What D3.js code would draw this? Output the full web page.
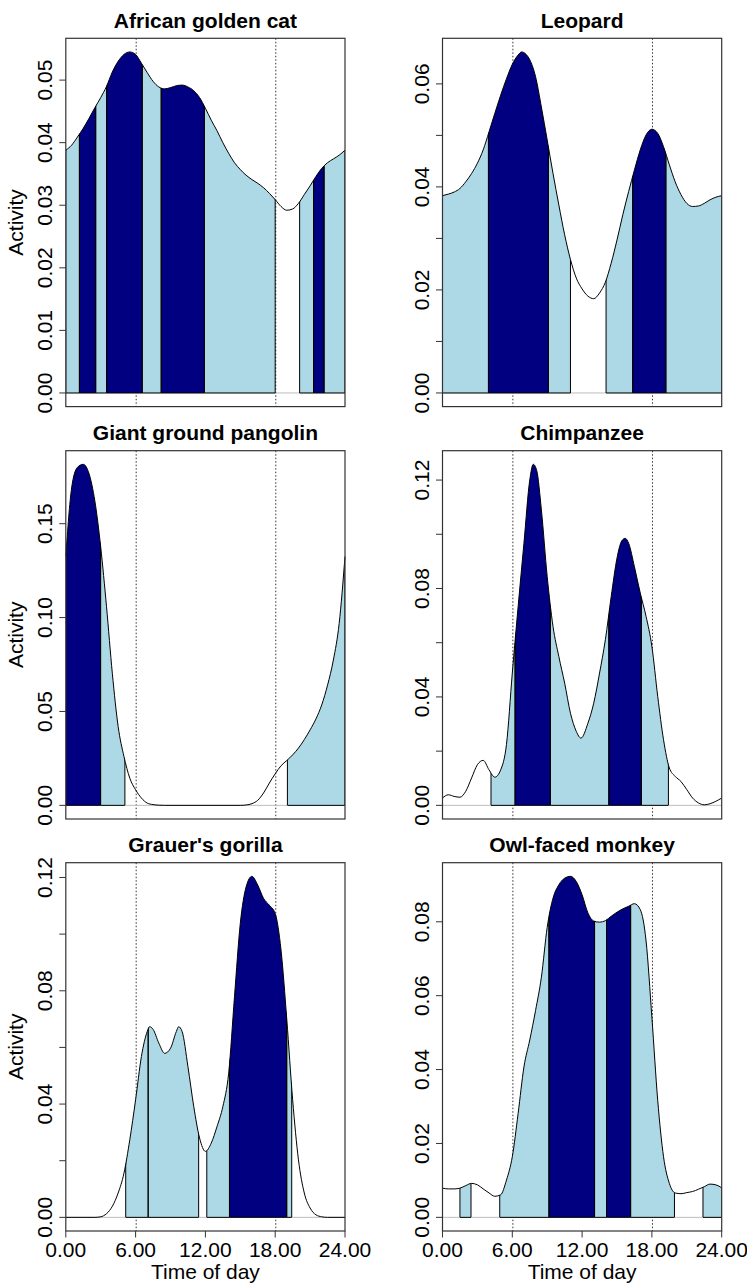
<!DOCTYPE html>
<html>
<head>
<meta charset="utf-8">
<script src="https://cdn.jsdelivr.net/npm/d3@7"></script>
<style>
  body { margin: 0; background: #fff; }
  svg text { font-family: "Liberation Sans", Arial, sans-serif; fill: #000; }
</style>
</head>
<body>
<svg id="chart" width="747" height="1285"></svg>
<script>
// panel titles, in reading order
const species = ["African golden cat", "Leopard", "Giant ground pangolin",
                 "Chimpanzee", "Grauer's gorilla", "Owl-faced monkey"];

// activity density curves as [hour, activity]
const goldenCat = [[0,.0388],[0.5,.0396],[1,.0409],[1.5,.0423],[2,.0439],[2.5,.0456],[3,.0472],[3.5,.0490],
  [4,.0513],[4.5,.0530],[5,.0541],[5.5,.0545],[6,.0541],[6.5,.0527],[7,.0512],[7.5,.0498],[8,.0489],
  [8.5,.0486],[9,.0488],[9.5,.0491],[10,.0492],[10.5,.0489],[11,.0483],[11.5,.0472],[12,.0455],
  [12.5,.0436],[13,.0419],[13.5,.0400],[14,.0383],[14.5,.0368],[15,.0357],[15.5,.0348],[16,.0341],
  [16.5,.0335],[17,.0328],[17.5,.0319],[18,.0309],[18.5,.0298],[19,.0292],[19.5,.0294],[20,.0303],
  [20.5,.0317],[21,.0331],[21.5,.0346],[22,.0359],[22.5,.0368],[23,.0374],[23.5,.0380],[24,.0388]];

const leopard = [[0,.0383],[0.5,.0386],[1,.0390],[1.5,.0397],[2,.0410],[2.5,.0426],[3,.0446],[3.5,.0472],
  [4,.0507],[4.5,.0543],[5,.0578],[5.5,.0610],[6,.0638],[6.5,.0656],[6.8,.0662],[7.2,.0657],[7.5,.0647],
  [8,.0614],[8.5,.0555],[9,.0491],[9.5,.0426],[10,.0365],[10.5,.0307],[11,.0259],[11.5,.0223],[12,.0202],
  [12.5,.0188],[13,.0183],[13.5,.0194],[14,.0215],[14.5,.0252],[15,.0297],[15.5,.0346],[16,.0391],
  [16.5,.0433],[17,.0472],[17.5,.0501],[18,.0512],[18.5,.0504],[19,.0478],[19.5,.0443],[20,.0410],
  [20.5,.0385],[21,.0368],[21.5,.0362],[22,.0363],[22.5,.0368],[23,.0375],[23.5,.0380],[24,.0383]];

const pangolin = [[0,.1325],[0.5,.1690],[1,.1800],[1.5,.1816],[2,.1766],[2.5,.1620],[3,.1376],[3.5,.1058],
  [4,.0703],[4.5,.0420],[5,.0260],[5.5,.0145],[6,.0083],[6.5,.0039],[7,.0012],[7.5,.0004],[8,.0001],
  [8.5,0],[15,0],[15.5,.0002],[16,.0009],[16.5,.0027],[17,.0066],[17.5,.0119],[18,.0168],[18.5,.0211],
  [19,.0239],[19.5,.0269],[20,.0305],[20.5,.0350],[21,.0402],[21.5,.0460],[22,.0535],[22.5,.0640],
  [23,.0774],[23.5,.0969],[24,.1325]];

const chimpanzee = [[0,.0027],[0.5,.0039],[1,.0033],[1.5,.0030],[2,.0052],[2.5,.0101],[3,.0150],[3.5,.0166],
  [4,.0131],[4.5,.0104],[5,.0131],[5.5,.0225],[6,.0488],[6.5,.0733],[7,.0967],[7.5,.1200],[7.8,.1258],
  [8.1,.1235],[8.5,.1090],[9,.0844],[9.5,.0660],[10,.0549],[10.5,.0451],[11,.0340],[11.5,.0273],
  [11.9,.0248],[12.5,.0303],[13,.0377],[13.5,.0488],[14,.0611],[14.5,.0770],[15,.0912],[15.4,.0975],
  [15.7,.0985],[16,.0967],[16.5,.0880],[17,.0783],[17.5,.0697],[18,.0586],[18.5,.0402],[19,.0242],
  [19.5,.0138],[20,.0107],[20.5,.0088],[21,.0058],[21.5,.0027],[22,.0009],[22.5,.0002],[23,.0006],
  [23.5,.0015],[24,.0027]];

const gorilla = [[0,0],[2.5,0],[3,.0002],[3.5,.0013],[4,.0039],[4.5,.0086],[5,.0156],[5.5,.0274],[6,.0415],
  [6.5,.0568],[7,.0656],[7.2,.0673],[7.5,.0664],[8,.0615],[8.5,.0579],[9,.0597],[9.5,.0656],[9.7,.0673],
  [10,.0656],[10.5,.0532],[11,.0391],[11.5,.0280],[12,.0233],[12.5,.0262],[13,.0321],[13.5,.0391],
  [14,.0509],[14.5,.0779],[15,.1038],[15.5,.1167],[16,.1204],[16.5,.1173],[17,.1126],[17.5,.1102],
  [18,.1073],[18.5,.0944],[19,.0697],[19.5,.0415],[20,.0203],[20.5,.0086],[21,.0033],[21.5,.0009],
  [22,.0002],[22.5,0],[24,0]];

const owlFaced = [[0,.0079],[0.5,.0077],[1,.0077],[1.5,.0079],[2,.0086],[2.5,.0092],[3,.0088],[3.5,.0077],
  [4,.0066],[4.5,.0057],[5,.0061],[5.5,.0101],[6,.0164],[6.5,.0281],[7,.0407],[7.5,.0480],[8,.0560],
  [8.5,.0650],[9,.0785],[9.5,.0864],[10,.0900],[10.5,.0918],[11,.0923],[11.5,.0909],[12,.0873],
  [12.5,.0824],[13,.0802],[13.5,.0799],[14,.0803],[14.5,.0815],[15,.0826],[15.5,.0835],[16,.0842],
  [16.5,.0849],[17,.0833],[17.5,.0748],[18,.0541],[18.5,.0317],[19,.0164],[19.5,.0092],[20,.0066],
  [20.5,.0064],[21,.0067],[21.5,.0070],[22,.0076],[22.5,.0083],[23,.0090],[23.5,.0088],[24,.0080]];

// shaded hour blocks: [start, end, level]  level 1 = light, 2 = dark
const goldenCatBlocks = [[0,1.17,1],[1.17,2.57,2],[2.57,3.51,1],[3.51,6.57,2],[6.57,8.2,1],[8.2,11.91,2],
  [11.91,18.0,1],[20.1,21.3,1],[21.3,22.2,2],[22.2,24,1]];
const leopardBlocks = [[0,3.95,1],[3.95,9.1,2],[9.1,11.0,1],[14.06,16.35,1],[16.35,19.2,2],[19.2,24,1]];
const pangolinBlocks = [[0,2.99,2],[2.99,5.08,1],[19.05,24,1]];
const chimpanzeeBlocks = [[4.17,6.24,1],[6.24,9.27,2],[9.27,14.3,1],[14.3,17.09,2],[17.09,19.42,1]];
const gorillaBlocks = [[5.15,7.08,1],[7.08,11.42,1],[12.12,14.07,1],[14.07,18.99,2],[18.99,19.42,1]];
const owlFacedBlocks = [[1.5,2.45,1],[4.92,9.15,1],[9.15,13.07,2],[13.07,14.1,1],[14.1,16.17,2],
  [16.17,19.94,1],[22.39,24,1]];

// y axis ticks per panel
const goldenCatTicks = [0, .01, .02, .03, .04, .05];
const leopardTicks = [0, .01, .02, .03, .04, .05, .06];
const pangolinTicks = [0, .05, .10, .15];
const chimpanzeeTicks = [0, .02, .04, .06, .08, .10, .12];
const gorillaTicks = [0, .02, .04, .06, .08, .10, .12];
const owlFacedTicks = [0, .02, .04, .06, .08];

const xTicks = [0, 6, 12, 18, 24];
const sunTimes = [6.05, 18.05];   // dotted sunrise / sunset lines

const curves = [goldenCat, leopard, pangolin, chimpanzee, gorilla, owlFaced];
const blocks = [goldenCatBlocks, leopardBlocks, pangolinBlocks, chimpanzeeBlocks, gorillaBlocks, owlFacedBlocks];
const yTicks = [goldenCatTicks, leopardTicks, pangolinTicks, chimpanzeeTicks, gorillaTicks, owlFacedTicks];

const fills = {1: "#add8e6", 2: "#000080"};

const svg = d3.select("#chart");
const W = 279.2, H = 368.3;
const colLeft = [65.8, 442.5];
const rowTop = [38.3, 450.7, 862.7];
const tickLen = 6.5;

species.forEach((name, i) => {
    const col = i % 2, row = Math.floor(i / 2);
    const left = colLeft[col], top = rowTop[row];
    const data = curves[i];
    const maxV = d3.max(data, d => d[1]);

    const x = d3.scaleLinear().domain([0, 24]).range([left, left + W]);
    const y = d3.scaleLinear().domain([-0.04 * maxV, 1.04 * maxV]).range([top + H, top]);

    const g = svg.append("g");

    // sunrise / sunset
    g.selectAll(".sun").data(sunTimes).join("line")
        .attr("x1", d => x(d)).attr("x2", d => x(d))
        .attr("y1", top).attr("y2", top + H)
        .attr("stroke", "#333").attr("stroke-width", 1)
        .attr("stroke-dasharray", "1.5,2");

    // baseline at zero
    g.append("line")
        .attr("x1", left).attr("x2", left + W)
        .attr("y1", y(0)).attr("y2", y(0))
        .attr("stroke", "#bdbdbd").attr("stroke-width", 1);

    const area = d3.area()
        .x(d => x(d[0])).y0(y(0)).y1(d => y(d[1]))
        .curve(d3.curveMonotoneX);
    const line = d3.line()
        .x(d => x(d[0])).y(d => y(d[1]))
        .curve(d3.curveMonotoneX);

    svg.append("clipPath").attr("id", "clip" + i)
        .append("path").attr("d", area(data));

    const shaded = g.append("g").attr("clip-path", "url(#clip" + i + ")");
    shaded.selectAll("rect").data(blocks[i]).join("rect")
        .attr("x", d => x(d[0]))
        .attr("width", d => x(d[1]) - x(d[0]))
        .attr("y", top)
        .attr("height", y(0) - top)
        .attr("fill", d => fills[d[2]]);

    const edges = blocks[i].flatMap(d => [d[0], d[1]]);
    shaded.selectAll("line").data(edges).join("line")
        .attr("x1", d => x(d)).attr("x2", d => x(d))
        .attr("y1", top).attr("y2", y(0))
        .attr("stroke", "#000").attr("stroke-width", 1);

    g.selectAll(".bottom").data(blocks[i]).join("line")
        .attr("x1", d => x(d[0])).attr("x2", d => x(d[1]))
        .attr("y1", y(0)).attr("y2", y(0))
        .attr("stroke", "#000").attr("stroke-width", 1);

    g.append("path").attr("d", line(data))
        .attr("fill", "none").attr("stroke", "#000").attr("stroke-width", 1);

    // frame
    g.append("rect")
        .attr("x", left).attr("y", top).attr("width", W).attr("height", H)
        .attr("fill", "none").attr("stroke", "#333").attr("stroke-width", 1.2);

    // y axis
    const ticks = yTicks[i];
    g.selectAll(".ytick").data(ticks).join("line")
        .attr("x1", left - tickLen).attr("x2", left)
        .attr("y1", d => y(d)).attr("y2", d => y(d))
        .attr("stroke", "#333").attr("stroke-width", 1);

    // drop labels that would collide, like R does
    let lastY = Infinity;
    const shown = ticks.filter(t => {
        if (lastY - y(t) >= 60) { lastY = y(t); return true; }
        return false;
    });
    g.selectAll(".ylab").data(shown).join("text")
        .attr("transform", d => `translate(${left - 14},${y(d)}) rotate(-90)`)
        .attr("text-anchor", "middle")
        .style("font-size", "21px")
        .text(d => d3.format(".2f")(d));

    if (col === 0) {
        g.append("text")
            .attr("transform", `translate(${left - 43},${top + H / 2}) rotate(-90)`)
            .attr("text-anchor", "middle")
            .style("font-size", "21px")
            .text("Activity");
    }

    // x axis only on the bottom row
    if (row === 2) {
        g.selectAll(".xtick").data(xTicks).join("line")
            .attr("x1", d => x(d)).attr("x2", d => x(d))
            .attr("y1", top + H).attr("y2", top + H + tickLen)
            .attr("stroke", "#333").attr("stroke-width", 1);
        g.selectAll(".xlab").data(xTicks).join("text")
            .attr("x", d => x(d)).attr("y", top + H + 25.5)
            .attr("text-anchor", "middle")
            .style("font-size", "21px")
            .text(d => d3.format(".2f")(d));
        g.append("text")
            .attr("x", left + W / 2).attr("y", top + H + 47.5)
            .attr("text-anchor", "middle")
            .style("font-size", "21px")
            .text("Time of day");
    }

    g.append("text")
        .attr("x", left + W / 2).attr("y", top - 10.5)
        .attr("text-anchor", "middle")
        .style("font-size", "21px").style("font-weight", "bold")
        .text(name);
});
</script>
</body>
</html>
